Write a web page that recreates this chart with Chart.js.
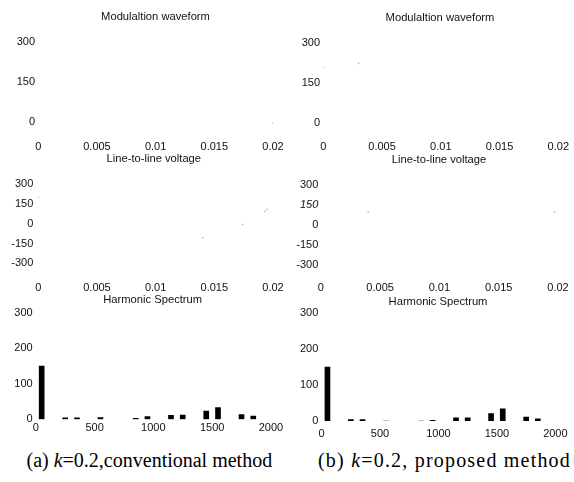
<!DOCTYPE html>
<html><head><meta charset="utf-8">
<script src="https://cdn.jsdelivr.net/npm/chart.js@4.4.1/dist/chart.umd.min.js"></script>
<style>
html,body{margin:0;padding:0;background:#fff;}
#fig{position:relative;width:574px;height:482px;overflow:hidden;background:#fff;}
canvas{position:absolute;}
.cap{position:absolute;font-family:"Liberation Serif","Times New Roman",serif;font-size:20px;line-height:20px;white-space:nowrap;color:#000;}
</style></head>
<body><div id="fig">
<canvas id="c1"></canvas><canvas id="c2"></canvas>
<canvas id="c3"></canvas><canvas id="c4"></canvas>
<canvas id="c5"></canvas><canvas id="c6"></canvas>
<div class="cap" style="left:26.5px;top:450.3px">(a) <i>k</i>=0.2,conventional method</div>
<div class="cap" style="left:318px;top:450.3px;letter-spacing:1.2px;">(b) <i>k</i>=0.2, proposed method</div>
</div>
<script>
// ---- titles ----
const panelTitles = ['Modulaltion waveform', 'Line-to-line voltage', 'Harmonic Spectrum'];

// ---- tick values / labels ----
const timeTicks = [0, 0.005, 0.01, 0.015, 0.02];
const timeTickLabels = ['0', '0.005', '0.01', '0.015', '0.02'];
const modTicks = [0, 150, 300];
const voltTicks = [-300, -150, 0, 150, 300];
const freqTicks = [0, 500, 1000, 1500, 2000];
const freqTickLabels = ['0', '500', '1000', '1500', '2000'];
const specTicks = [0, 100, 200, 300];

// ---- harmonic spectrum (Hz, amplitude) ----
const harmonicFreqs    = [50, 250, 350, 550, 850, 950, 1150, 1250, 1450, 1550, 1750, 1850];
const specConventional = [150, 4, 4, 5, 3, 8, 11, 12, 23, 33, 13, 9];
const specProposed     = [150, 4, 4, 0, 0, 2, 9, 9, 21, 34, 11, 6];

// ---- faint waveform traces still visible in the scan ----
const modConvT  = [0.02];
const modConvV  = [-5];
const modPropT  = [0, 0.003];
const modPropV  = [210, 225];
const voltConvT = [0, 0.014, 0.0174, 0.0193, 0.0195];
const voltConvV = [200, -105, -5, 95, 110];
const voltPropT = [0.004, 0.0197];
const voltPropV = [97, 97];

const fontFamily = '"Liberation Sans", Arial, sans-serif';
const tickFont = {family: fontFamily, size: 11};
const ink = '#111';

function pts(xs, ys) { return xs.map((x, i) => ({x: x, y: ys[i]})); }
function traceSet(xs, ys) {
  return {data: pts(xs, ys), pointRadius: 0.9, backgroundColor: '#bbb', borderWidth: 0, pointHoverRadius: 0};
}
function barSet(xs, ys) {
  return {data: pts(xs, ys), backgroundColor: '#000', borderWidth: 0, barThickness: 5};
}

// panel title drawn on the chart canvas
const panelTitle = {
  id: 'panelTitle',
  afterDraw(chart, args, opts) {
    const ctx = chart.ctx;
    ctx.save();
    ctx.font = '11.2px ' + fontFamily;
    ctx.fillStyle = ink;
    ctx.textAlign = 'center';
    ctx.textBaseline = 'alphabetic';
    ctx.fillText(opts.text, opts.x, opts.y);
    ctx.restore();
  }
};

// layout: canvas box, and where (in page pixels) the axes should put given values
const panels = [
  {id: 'c1', type: 'scatter', left: 0,   top: 0,   w: 287, h: 152, padT: 31.5, xH: 12.5, yPad: 3.3,
   title: panelTitles[0], tX: 155.5, tY: 20,
   xPix: [38.3, 273], yPix: [41.7, 121.7], xLabelY: 146.7,
   xTicks: timeTicks, xLabels: timeTickLabels, yTicks: modTicks, yRef: [300, 0], ds: [traceSet(modConvT, modConvV)]},
  {id: 'c2', type: 'scatter', left: 287, top: 0,   w: 287, h: 152, padT: 31.5, xH: 12.5, yPad: 3.3,
   title: panelTitles[0], tX: 440, tY: 20.7,
   xPix: [323.3, 558.3], yPix: [43.3, 123.3], xLabelY: 146.7,
   xTicks: timeTicks, xLabels: timeTickLabels, yTicks: modTicks, yRef: [300, 0], ds: [traceSet(modPropT, modPropV)]},
  {id: 'c3', type: 'scatter', left: 0,   top: 152, w: 287, h: 141, padT: 20,   xH: 12.5, yPad: 5,
   title: panelTitles[1], tX: 153.8, tY: 162,
   xPix: [38.3, 273], yPix: [184.3, 263.3], xLabelY: 288,
   xTicks: timeTicks, xLabels: timeTickLabels, yTicks: voltTicks, yRef: [300, -300], ds: [traceSet(voltConvT, voltConvV)]},
  {id: 'c4', type: 'scatter', left: 287, top: 152, w: 287, h: 141, padT: 20,   xH: 12.5, yPad: 2.5, italicTick: 150,
   title: panelTitles[1], tX: 439, tY: 162.7,
   xPix: [320.8, 558], yPix: [185, 265], xLabelY: 288,
   xTicks: timeTicks, xLabels: timeTickLabels, yTicks: voltTicks, yRef: [300, -300], ds: [traceSet(voltPropT, voltPropV)]},
  {id: 'c5', type: 'bar',     left: 0,   top: 293, w: 287, h: 147, padT: 15,   xH: 20.7, yPad: 3.1,
   title: panelTitles[2], tX: 152.7, tY: 303,
   xPix: [35.8, 270.9], yPix: [312.7, 419.3], xLabelY: 428.3,
   xTicks: freqTicks, xLabels: freqTickLabels, yTicks: specTicks, yRef: [300, 0], ds: [barSet(harmonicFreqs, specConventional)]},
  {id: 'c6', type: 'bar',     left: 287, top: 293, w: 287, h: 147, padT: 15,   xH: 19,   yPad: 3.3,
   title: panelTitles[2], tX: 438, tY: 304.7,
   xPix: [321.6, 557.6], yPix: [313.3, 421], xLabelY: 434,
   xTicks: freqTicks, xLabels: freqTickLabels, yTicks: specTicks, yRef: [300, 0], ds: [barSet(harmonicFreqs, specProposed)]}
];

function makeChart(p) {
  const cv = document.getElementById(p.id);
  cv.width = p.w; cv.height = p.h;
  cv.style.left = p.left + 'px'; cv.style.top = p.top + 'px';
  cv.style.width = p.w + 'px'; cv.style.height = p.h + 'px';
  cv.getContext('2d', {willReadFrequently: true});
  const yW = p.xPix[0] - p.left;
  const padR = p.left + p.w - p.xPix[1];
  const x0 = p.xTicks[0], x1 = p.xTicks[p.xTicks.length - 1];
  const yFont = ctx => (p.italicTick !== undefined && ctx.tick && ctx.tick.value === p.italicTick)
    ? {family: fontFamily, size: 11, style: 'italic'} : tickFont;
  const chart = new Chart(cv, {
    type: p.type,
    data: {datasets: p.ds},
    plugins: [panelTitle],
    options: {
      responsive: false, maintainAspectRatio: false, animation: false, devicePixelRatio: 1,
      events: [],
      layout: {padding: {top: p.padT, right: padR, left: 0, bottom: 0}},
      plugins: {legend: {display: false}, tooltip: {enabled: false}, title: {display: false},
                panelTitle: {text: p.title, x: p.tX - p.left, y: p.tY - p.top}},
      scales: {
        x: {
          type: 'linear', min: x0, max: x1, offset: false,
          grid: {display: false, drawTicks: false, tickLength: 0}, border: {display: false},
          afterFit: s => { s.height = p.xH; },
          afterBuildTicks: s => { s.ticks = p.xTicks.map(v => ({value: v})); },
          ticks: {padding: 1, font: tickFont, color: ink, maxRotation: 0, minRotation: 0, autoSkip: false,
                  callback: (v, i) => p.xLabels[i]}
        },
        y: {
          type: 'linear', min: p.yRef[1] - 50, max: p.yRef[0] + 50,
          grid: {display: false, drawTicks: false, tickLength: 0}, border: {display: false},
          afterFit: s => { s.width = yW; },
          afterBuildTicks: s => { s.ticks = p.yTicks.map(v => ({value: v})); },
          ticks: {padding: p.yPad, font: yFont, color: ink, autoSkip: false, z: 1,
                  callback: (v, i) => String(p.yTicks[i])}
        }
      }
    }
  });
  // second pass: fit the axis ranges to the measured plot area
  const a = chart.chartArea;
  const T = a.top + p.top, B = a.bottom + p.top, L = a.left + p.left, R = a.right + p.left;
  const s = (p.yPix[1] - p.yPix[0]) / (p.yRef[0] - p.yRef[1]);
  const o = chart.options.scales;
  o.y.max = p.yRef[0] + (p.yPix[0] - T) / s;
  o.y.min = p.yRef[1] - (B - p.yPix[1]) / s;
  const sx = (p.xPix[1] - p.xPix[0]) / (x1 - x0);
  o.x.min = x0 - (p.xPix[0] - L) / sx;
  o.x.max = x1 + (R - p.xPix[1]) / sx;
  o.x.ticks.padding = Math.max(0, p.xLabelY - B - 6.6);
  chart.update('none');
  return chart;
}
const charts = panels.map(makeChart);
requestAnimationFrame(() => charts.forEach(c => c.render()));
setTimeout(() => charts.forEach(c => c.render()), 60);
</script>
</body></html>
